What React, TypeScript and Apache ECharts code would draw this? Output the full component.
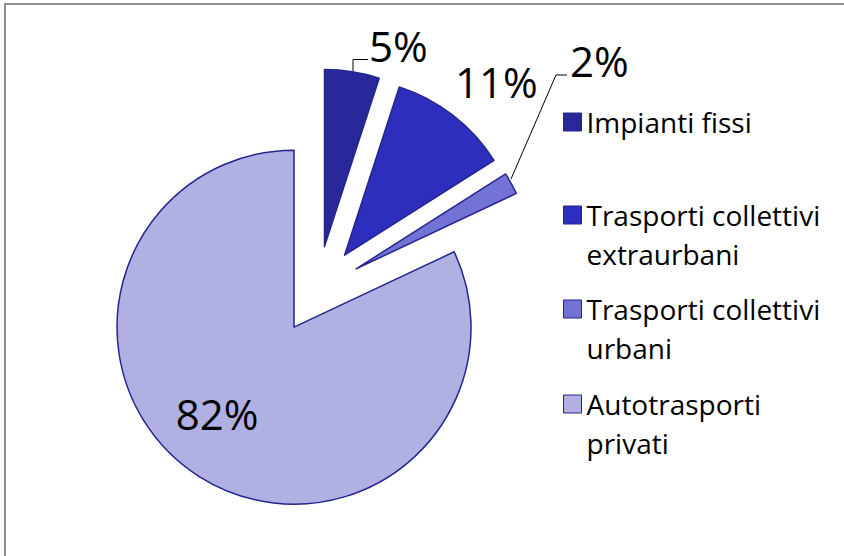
import React, { useEffect, useRef } from "react";
import * as echarts from "echarts";

const categories = [
  "Impianti fissi",
  "Trasporti collettivi extraurbani",
  "Trasporti collettivi urbani",
  "Autotrasporti privati",
];
const values = [5, 11, 2, 82];
const colors = ["#28289A", "#2E2EBE", "#7373D6", "#B0B0E3"];
const BORDER = "#25258F";
const FONT = "'Open Sans', 'Noto Sans', sans-serif";

const legendTops = [102.5, 156.5, 250.5, 345.5];

const labelPlacement = [
  { x: 369, y: 45, align: "left", verticalAlign: "middle", labelLinePoints: [[353, 71], [353, 59.5], [368, 59.5]] },
  { x: 455, y: 81, align: "left", verticalAlign: "middle" },
  { x: 570, y: 60, align: "left", verticalAlign: "middle", labelLinePoints: [[511, 179], [556, 75], [567, 75]] },
  { x: 217, y: 413, align: "center", verticalAlign: "middle" },
];

function legendName(n: string) {
  if (n.indexOf("collettivi ") >= 0) return "\n" + n.replace("collettivi ", "collettivi\n");
  if (n.indexOf("Autotrasporti ") >= 0) return "\n" + n.replace("Autotrasporti ", "Autotrasporti\n");
  return n;
}

export default function App() {
  const ref = useRef<HTMLDivElement>(null);
  useEffect(() => {
    if (!ref.current) return;
    const chart = echarts.init(ref.current, null, { renderer: "svg" });
    const legends = categories.map((name, i) => ({
      data: [name],
      left: 563,
      top: legendTops[i],
      orient: "vertical",
      padding: 0,
      itemWidth: 18,
      itemHeight: 18,
      icon: "rect",
      selectedMode: false,
      formatter: legendName,
      itemStyle: { borderColor: BORDER, borderWidth: 1 },
      textStyle: {
        fontFamily: FONT,
        fontSize: 28,
        lineHeight: 39,
        color: "#000",
      },
    }));
    const common = {
      type: "pie",
      center: [317.6, 290],
      radius: 177,
      startAngle: 90,
      clockwise: true,
      avoidLabelOverlap: false,
      percentPrecision: 0,
    };
    chart.setOption({
      animation: false,
      backgroundColor: "#fff",
      graphic: [
        {
          type: "rect",
          shape: { x: 5, y: 4, width: 900, height: 700 },
          style: { fill: "none", stroke: "#8E8E8E", lineWidth: 2 },
          silent: true,
        },
      ],
      legend: legends,
      series: [
        {
          ...common,
          name: "slices",
          selectedMode: "multiple",
          selectedOffset: 44,
          itemStyle: { borderColor: BORDER, borderWidth: 1.5 },
          select: { itemStyle: { borderColor: BORDER, borderWidth: 1.5 } },
          emphasis: { disabled: true },
          label: { show: false },
          labelLine: { show: false },
          data: categories.map((name, i) => ({
            name,
            value: values[i],
            selected: true,
            itemStyle: { color: colors[i] },
          })),
        },
        {
          ...common,
          name: "labels",
          silent: true,
          emphasis: { disabled: true },
          itemStyle: { color: "transparent", borderWidth: 0 },
          label: {
            show: true,
            position: "outside",
            formatter: "{d}%",
            fontFamily: FONT,
            fontSize: 42,
            color: "#000",
          },
          labelLine: { show: true, lineStyle: { color: "#000", width: 1 } },
          labelLayout: (p: any) => labelPlacement[p.dataIndex],
          data: categories.map((name, i) => ({
            name,
            value: values[i],
            label: i === 3 ? { position: "inside" } : {},
            labelLine: i === 1 || i === 3 ? { show: false } : {},
          })),
        },
      ],
    });
    return () => chart.dispose();
  }, []);
  return (
    <div
      ref={ref}
      style={{ position: "absolute", left: 0, top: 0, width: 844, height: 556, background: "#fff" }}
    />
  );
}
